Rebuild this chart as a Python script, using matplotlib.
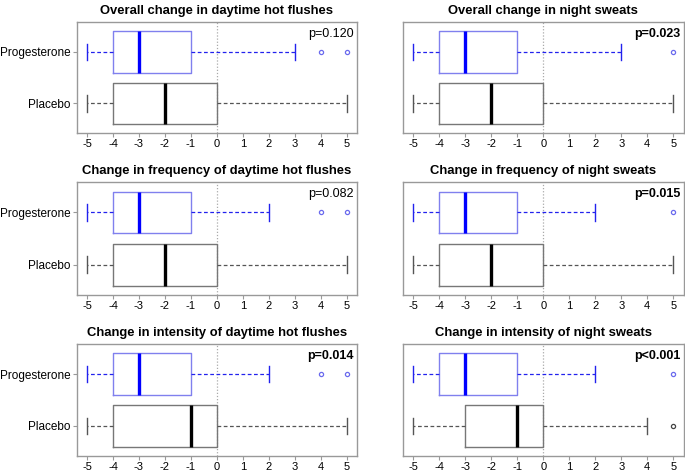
import matplotlib
matplotlib.use("Agg")
import matplotlib.pyplot as plt

plt.rcParams['font.family'] = ['Liberation Sans', 'DejaVu Sans']

titles = [
    "Overall change in daytime hot flushes",
    "Overall change in night sweats",
    "Change in frequency of daytime hot flushes",
    "Change in frequency of night sweats",
    "Change in intensity of daytime hot flushes",
    "Change in intensity of night sweats",
]
p_labels = ["p=0.120", "p=0.023", "p=0.082", "p=0.015", "p=0.014", "p<0.001"]
p_bold = [False, True, False, True, True, True]
groups = ["Progesterone", "Placebo"]

# five-number summaries per panel: (whislo, q1, med, q3, whishi)
prog_stats = [(-5, -4, -3, -1, 3), (-5, -4, -3, -1, 3), (-5, -4, -3, -1, 2),
              (-5, -4, -3, -1, 2), (-5, -4, -3, -1, 2), (-5, -4, -3, -1, 2)]
prog_fliers = [[4, 5], [5], [4, 5], [5], [4, 5], [5]]
plac_stats = [(-5, -4, -2, 0, 5), (-5, -4, -2, 0, 5), (-5, -4, -2, 0, 5),
              (-5, -4, -2, 0, 5), (-5, -4, -1, 0, 5), (-5, -3, -1, 0, 4)]
plac_fliers = [[], [], [], [], [], [5]]
x_ticks = [-5, -4, -3, -2, -1, 0, 1, 2, 3, 4, 5]

col_x = [(0.112, 0.409), (0.588, 0.410)]
row_y = [(0.718, 0.235), (0.375, 0.239), (0.034, 0.237)]

fig = plt.figure(figsize=(6.85, 4.72), dpi=100)
frame_col = "#999999"


def make_stat(s, fl):
    lo, q1, med, q3, hi = s
    return dict(whislo=lo, q1=q1, med=med, q3=q3, whishi=hi, fliers=fl)


for i in range(6):
    r, c = divmod(i, 2)
    left, w = col_x[c]
    bottom, h = row_y[r]
    ax = fig.add_axes([left, bottom, w, h])
    ax.axvline(0, color="#aaaaaa", lw=0.9, ls=(0, (1, 1.5)), zorder=0)

    styles = [("#2222ee", "#8080ee", "#0000ff", "#6a6aee"),
              ("#555555", "#777777", "#000000", "#444444")]
    data = [(prog_stats[i], prog_fliers[i]), (plac_stats[i], plac_fliers[i])]
    positions = [2, 1]
    for (s, fl), pos, (wc, bc, mc, fc) in zip(data, positions, styles):
        ax.bxp([make_stat(s, fl)], positions=[pos], vert=False, widths=0.8,
               showfliers=True,
               boxprops=dict(color=bc, lw=1.0),
               medianprops=dict(color=mc, lw=2.4),
               whiskerprops=dict(color=wc, lw=0.9, ls=(0, (3, 2))),
               capprops=dict(color=wc, lw=1.0),
               capwidths=0.32,
               flierprops=dict(marker="o", markersize=3, markerfacecolor="none",
                               markeredgecolor=fc, markeredgewidth=0.9))

    ax.set_xlim(-5.4, 5.4)
    ax.set_ylim(0.42, 2.58)
    ax.set_xticks(x_ticks)
    ax.set_xticklabels([str(t) for t in x_ticks], fontsize=8)
    if c == 0:
        ax.set_yticks(positions)
        ax.set_yticklabels(groups, fontsize=8.5)
    else:
        ax.set_yticks([])
    ax.tick_params(colors=frame_col, labelcolor="black", length=3, width=0.8, pad=1.5)
    for sp in ax.spines.values():
        sp.set_color(frame_col)
        sp.set_linewidth(1.0)
    ax.set_title(titles[i], fontsize=9.4, fontweight="bold", pad=6)
    ax.text(0.99, 0.95, p_labels[i], transform=ax.transAxes, ha="right", va="top",
            fontsize=9, fontweight="bold" if p_bold[i] else "normal")

fig.savefig("out.png", dpi=100, facecolor="white")
